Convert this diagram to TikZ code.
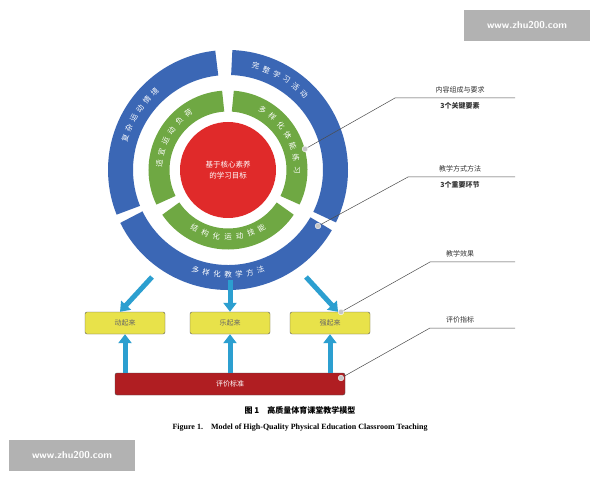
\documentclass[tikz,border=0pt]{standalone}
\usepackage{fontspec}
\setmainfont{Liberation Serif}
\newfontfamily\cjk{Noto Sans CJK SC}
\usetikzlibrary{arrows.meta}
\definecolor{ringblue}{HTML}{3B67B5}
\definecolor{ringgreen}{HTML}{6FA843}
\definecolor{corered}{HTML}{E02A2A}
\definecolor{boxyellow}{HTML}{E8E24A}
\definecolor{barred}{HTML}{B01E22}
\definecolor{arrowcyan}{HTML}{2C9FD0}
\tikzset{
  bluearc/.style={draw=ringblue,line width=25pt},
  greenarc/.style={draw=ringgreen,line width=21pt},
  arcchar/.style={text=white,inner sep=0pt,font=\cjk\fontsize{7.5}{7.5}\selectfont},
  goalbox/.style={draw=gray!70!black,fill=boxyellow,rounded corners=2pt,
    minimum width=80pt,minimum height=22pt,font=\cjk\fontsize{7}{7}\selectfont,text=black!60},
  bigarrow/.style={draw=arrowcyan,line width=5pt,-{Triangle[length=9pt,width=13pt]}},
  leader/.style={draw=gray!60!black,line width=0.5pt},
  pin/.style={circle,fill=gray!45,draw=white,inner sep=2pt},
  sidelabel/.style={font=\cjk\fontsize{7}{7}\selectfont,text=black!80},
  wmark/.style={draw=gray!60,fill=gray!60,text=white,font=\sffamily\bfseries\fontsize{10}{10}\selectfont}
}
% \arcword{radius}{first angle}{step}{turn}{chars}
\newcommand{\arcword}[5]{%
  \foreach \ch [count=\k from 0] in {#5}
    \node[arcchar,rotate={#2+#3*\k+#4}] at ($(centro)+({#2+#3*\k}:#1)$) {\ch};}
\usetikzlibrary{calc}
\begin{document}
\begin{tikzpicture}[x=1pt,y=1pt]
  \useasboundingbox[fill=white] (0,0) rectangle (600,480);
  \coordinate (centro) at (228,310);
  % outer ring
  \draw[bluearc] (centro) ++(96:107.5) arc[start angle=96,end angle=202,radius=107.5];
  \draw[bluearc] (centro) ++(-26:107.5) arc[start angle=-26,end angle=88,radius=107.5];
  \draw[bluearc] (centro) ++(206:107.5) arc[start angle=206,end angle=330,radius=107.5];
  \arcword{107.5}{163}{-6}{-90}{复,杂,运,动,情,境}
  \arcword{107.5}{75}{-6}{-90}{完,整,学,习,活,动}
  \arcword{105}{252}{6}{90}{多,样,化,教,学,方,法}
  % inner ring
  \draw[greenarc] (centro) ++(94:69) arc[start angle=94,end angle=206,radius=69];
  \draw[greenarc] (centro) ++(-26:69) arc[start angle=-26,end angle=86,radius=69];
  \draw[greenarc] (centro) ++(214:69) arc[start angle=214,end angle=326,radius=69];
  \arcword{69}{175}{-10}{-90}{适,宜,运,动,负,荷}
  \arcword{69}{60}{-10}{-90}{多,样,化,体,能,练,习}
  \arcword{67}{240}{10}{90}{结,构,化,运,动,技,能}
  % core
  \node[circle,fill=corered,minimum size=96pt,text=white,align=center,
    font=\cjk\fontsize{7.5}{11}\selectfont] (core) at (centro) {基于核心素养\\的学习目标};
  % goals
  \node[goalbox] (dong) at (125,157) {动起来};
  \node[goalbox] (le) at (230,157) {乐起来};
  \node[goalbox] (qiang) at (330,157) {强起来};
  \node[draw=gray!60!black,fill=barred,rounded corners=2pt,minimum width=230pt,minimum height=22pt,
    text=white,font=\cjk\fontsize{7}{7}\selectfont] (biaozhun) at (230,96) {评价标准};
  \coordinate (d1) at (152,203);
  \coordinate (d2) at (230,200);
  \coordinate (d3) at (306,203);
  \draw[bigarrow] (d1) -- ([xshift=-5pt]dong.north);
  \draw[bigarrow] (d2) -- (le.north);
  \draw[bigarrow] (d3) -- ([xshift=8pt]qiang.north);
  \foreach \g in {dong,le,qiang}
    \draw[bigarrow] (biaozhun.north -| \g) -- (\g.south);
  % annotations
  \foreach \py/\px/\ly/\lx/\top/\bot in {331/305/382/395/内容组成与要求/3个关键要素,
      254/318/303/408/教学方式方法/3个重要环节,
      168/341/218/430/教学效果/,
      102/341/152/430/评价指标/} {
    \node[pin] (p) at (\px,\py) {};
    \draw[leader] (p) -- (\lx,\ly) -- (515,\ly);
    \node[sidelabel] at (460,\ly+8) {\top};
    \node[sidelabel,font=\cjk\bfseries\fontsize{7}{7}\selectfont] at (460,\ly-8) {\bot};
  }
  % caption
  \node[font=\cjk\bfseries\fontsize{8}{8}\selectfont] (cap) at (300,70) {图 1\quad 高质量体育课堂教学模型};
  \node[font=\bfseries\fontsize{8}{8}\selectfont] (capen) at (300,52) {Figure 1.\quad Model of High-Quality Physical Education Classroom Teaching};
  % watermarks
  \node[wmark,minimum width=125pt,minimum height=30pt] (wm1) at (527,455) {www.zhu200.com};
  \node[wmark,minimum width=125pt,minimum height=30pt] (wm2) at (72,25) {www.zhu200.com};
\end{tikzpicture}
\end{document}
